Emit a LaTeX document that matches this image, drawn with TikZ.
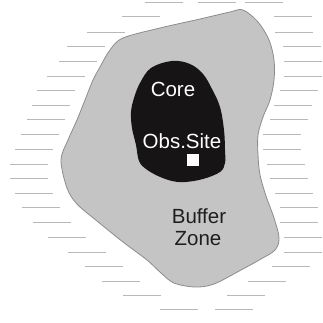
\documentclass[tikz,border=0pt]{standalone}
\usepackage{fontspec}
\setmainfont{Liberation Sans}
\definecolor{hatchgray}{RGB}{184,184,184}
\definecolor{bufferfill}{RGB}{196,196,196}
\definecolor{bufferedge}{RGB}{140,140,140}
\definecolor{corefill}{RGB}{22,20,20}
\definecolor{textdark}{RGB}{30,30,30}
\begin{document}
\begin{tikzpicture}[x=1pt,y=-1pt,
  hatch/.style={draw=hatchgray, line width=1pt},
  lbl/.style={font=\fontsize{20.5}{22}\selectfont, inner sep=0pt, anchor=base}]
\useasboundingbox (0,0) rectangle (322,323);
% hatch lines (water)
\foreach \yy/\xs in {3/145,3/198,3/245,17/122,17/274,33/87,33/275,47/67,47/283,
  62/59,62/284,77/47,77/284,91/37,91/280,106/32,106/274,120/27,120/270,
  134/21,134/263,149/15,149/263,164/10,164/267,178/10,178/270,193/15,193/275,
  207/22,207/280,222/33,222/280,237/48,237/284,252/68,252/284,266/85,266/272,
  281/102,281/248,295/123,295/227,309/160,309/215}{
  \pgfmathsetmacro{\xe}{min(\xs+38,322)}
  \draw[hatch] (\xs,\yy) -- (\xe,\yy);
}
% buffer zone
\draw[fill=bufferfill, draw=bufferedge, line width=0.8pt]
  plot[smooth cycle, tension=0.55] coordinates {
  (243,10) (258,22) (269,40) (274,60) (274,80) (270,100) (263,117) (258,135)
  (258,155) (260,175) (266,196) (274,218) (279,238) (275,250) (261,259)
  (241,270) (214,284) (195,287) (174,283) (161,273) (147,260) (123,242)
  (97,221) (77,204) (67,188) (61,160) (68,140) (77,120) (85,100)
  (93,80) (100,67) (110,50) (123,38) (160,28) (200,19) (230,12)};
% core
\fill[corefill] plot[smooth cycle, tension=0.6] coordinates {
  (172,61) (190,64) (203,74) (212,89) (220,107) (224,130) (225,150) (225,163)
  (220,172) (203,179) (185,182) (172,181) (158,176) (146,169) (139,161)
  (136,145) (132,128) (131,112) (134,98) (140,83) (151,68)};
% observation site
\fill[white] (187,154) rectangle (199,166);
% labels
\node[lbl, text=white] (core) at (173,97) {Core};
\node[lbl, text=white] (obs) at (182,148) {Obs.Site};
\node[lbl, text=textdark] (buf) at (199,223) {Buffer};
\node[lbl, text=textdark] (zone) at (198,245) {Zone};
\end{tikzpicture}
\end{document}
